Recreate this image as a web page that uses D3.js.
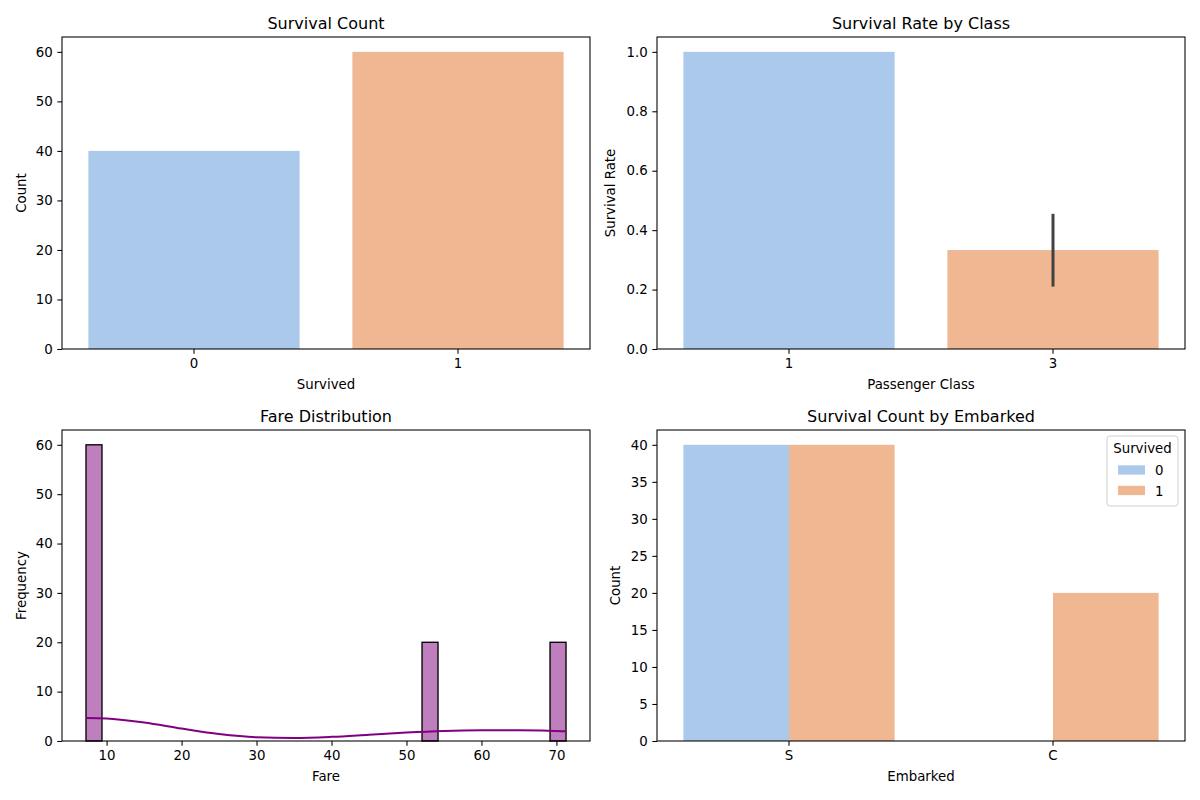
<!DOCTYPE html>
<html>
<head>
<meta charset="utf-8">
<script src="https://cdn.jsdelivr.net/npm/d3@7"></script>
<style>
  html, body { margin: 0; padding: 0; background: #fff; }
  svg { display: block; font-family: "DejaVu Sans", sans-serif; }
</style>
</head>
<body>
<svg id="chart" width="1200" height="800"></svg>
<script>
// ---- data ----
const survivedCats = ["0", "1"];
const survivedCounts = [40, 60];

const classCats = ["1", "3"];
const classRates = [1.0, 0.333];
const classCiLow = [1.0, 0.21];
const classCiHigh = [1.0, 0.455];

const fareBinLo = [7.25, 52.0733, 69.1489];
const fareBinHi = [9.3844, 54.2078, 71.2833];
const fareCounts = [60, 20, 20];
const kdeFare = [7.25, 10, 15, 20, 25, 30, 35, 40, 45, 50, 55, 60, 63, 65, 68, 71.28];
const kdeFreq = [4.67, 4.58, 3.75, 2.51, 1.40, 0.75, 0.61, 0.84, 1.28, 1.73, 2.05, 2.19, 2.20, 2.18, 2.11, 1.95];
const fareTicks = [10, 20, 30, 40, 50, 60, 70];

const embarkedCats = ["S", "C"];
const hueCats = ["0", "1"];
const embarkedDied = [40, 0];
const embarkedSurvived = [40, 20];

const blue = "#abc9ea", orange = "#efb792";
const FS = 13.33;

const svg = d3.select("#chart");
svg.append("rect").attr("width", 1200).attr("height", 800).attr("fill", "#fff");

function panel(x0, y0, x1, y1) {
  return { x0, y0, x1, y1, g: svg.append("g") };
}

function frame(p) {
  p.g.append("rect").attr("x", p.x0).attr("y", p.y0)
    .attr("width", p.x1 - p.x0).attr("height", p.y1 - p.y0)
    .attr("fill", "none").attr("stroke", "#000").attr("stroke-width", 1.07);
}

function styleAxis(sel) {
  sel.select(".domain").remove();
  sel.selectAll(".tick line").attr("stroke", "#000").attr("stroke-width", 1.07);
  sel.selectAll(".tick text").attr("fill", "#000").style("font-size", FS + "px")
     .style("font-family", "DejaVu Sans");
}

function axes(p, xAxis, yAxis) {
  const gx = p.g.append("g").attr("transform", `translate(0,${p.y1})`).call(xAxis);
  styleAxis(gx);
  const gy = p.g.append("g").attr("transform", `translate(${p.x0},0)`).call(yAxis);
  styleAxis(gy);
}

function labels(p, title, xl, yl, ylx) {
  p.g.append("text").attr("x", (p.x0 + p.x1) / 2).attr("y", p.y0 - 8)
    .attr("text-anchor", "middle").style("font-size", "16px").text(title);
  p.g.append("text").attr("x", (p.x0 + p.x1) / 2).attr("y", p.y1 + 40)
    .attr("text-anchor", "middle").style("font-size", FS + "px").text(xl);
  p.g.append("text").attr("transform", `translate(${ylx},${(p.y0 + p.y1) / 2}) rotate(-90)`)
    .attr("text-anchor", "middle").style("font-size", FS + "px").text(yl);
}

// ---- Panel 1: Survival Count ----
{
  const p = panel(62, 37, 590, 349);
  const x = d3.scaleBand().domain(survivedCats).range([p.x0, p.x1]).paddingInner(0.2).paddingOuter(0.1);
  const y = d3.scaleLinear().domain([0, 63]).range([p.y1, p.y0]);
  p.g.selectAll("rect.bar").data(survivedCats).join("rect").attr("class", "bar")
    .attr("x", d => x(d)).attr("width", x.bandwidth())
    .attr("y", (d, i) => y(survivedCounts[i])).attr("height", (d, i) => y(0) - y(survivedCounts[i]))
    .attr("fill", (d, i) => i === 0 ? blue : orange);
  axes(p, d3.axisBottom(x).tickSize(4.67).tickPadding(4.67),
          d3.axisLeft(y).tickValues([0, 10, 20, 30, 40, 50, 60]).tickSize(4.67).tickPadding(4.67));
  frame(p);
  labels(p, "Survival Count", "Survived", "Count", 25.5);
}

// ---- Panel 2: Survival Rate by Class ----
{
  const p = panel(657, 37, 1185, 349);
  const x = d3.scaleBand().domain(classCats).range([p.x0, p.x1]).paddingInner(0.2).paddingOuter(0.1);
  const y = d3.scaleLinear().domain([0, 1.05]).range([p.y1, p.y0]);
  p.g.selectAll("rect.bar").data(classCats).join("rect").attr("class", "bar")
    .attr("x", d => x(d)).attr("width", x.bandwidth())
    .attr("y", (d, i) => y(classRates[i])).attr("height", (d, i) => y(0) - y(classRates[i]))
    .attr("fill", (d, i) => i === 0 ? blue : orange);
  p.g.selectAll("line.err").data(classCats).join("line").attr("class", "err")
    .attr("x1", d => x(d) + x.bandwidth() / 2).attr("x2", d => x(d) + x.bandwidth() / 2)
    .attr("y1", (d, i) => y(classCiLow[i])).attr("y2", (d, i) => y(classCiHigh[i]))
    .attr("stroke", "#424242").attr("stroke-width", 3);
  axes(p, d3.axisBottom(x).tickSize(4.67).tickPadding(4.67),
          d3.axisLeft(y).tickValues([0, 0.2, 0.4, 0.6, 0.8, 1.0]).tickFormat(d3.format(".1f")).tickSize(4.67).tickPadding(4.67));
  frame(p);
  labels(p, "Survival Rate by Class", "Passenger Class", "Survival Rate", 614.5);
}

// ---- Panel 3: Fare Distribution ----
{
  const p = panel(62, 430, 590, 741);
  const x = d3.scaleLinear().domain([4.05, 74.48]).range([p.x0, p.x1]);
  const y = d3.scaleLinear().domain([0, 63]).range([p.y1, p.y0]);
  p.g.selectAll("rect.bin").data(fareCounts).join("rect").attr("class", "bin")
    .attr("x", (d, i) => x(fareBinLo[i])).attr("width", (d, i) => x(fareBinHi[i]) - x(fareBinLo[i]))
    .attr("y", d => y(d)).attr("height", d => y(0) - y(d))
    .attr("fill", "rgba(128,0,128,0.5)").attr("stroke", "#000").attr("stroke-width", 1.33);
  const line = d3.line().x((d, i) => x(kdeFare[i])).y(d => y(d)).curve(d3.curveMonotoneX);
  p.g.append("path").datum(kdeFreq).attr("d", line)
    .attr("fill", "none").attr("stroke", "purple").attr("stroke-width", 2);
  axes(p, d3.axisBottom(x).tickValues(fareTicks).tickSize(4.67).tickPadding(4.67),
          d3.axisLeft(y).tickValues([0, 10, 20, 30, 40, 50, 60]).tickSize(4.67).tickPadding(4.67));
  frame(p);
  labels(p, "Fare Distribution", "Fare", "Frequency", 25.5);
}

// ---- Panel 4: Survival Count by Embarked ----
{
  const p = panel(657, 430, 1185, 741);
  const x = d3.scaleBand().domain(embarkedCats).range([p.x0, p.x1]).paddingInner(0.2).paddingOuter(0.1);
  const xh = d3.scaleBand().domain(hueCats).range([0, x.bandwidth()]);
  const y = d3.scaleLinear().domain([0, 42]).range([p.y1, p.y0]);
  const series = [embarkedDied, embarkedSurvived];
  hueCats.forEach((h, k) => {
    p.g.selectAll("rect.h" + k).data(embarkedCats).join("rect").attr("class", "h" + k)
      .attr("x", d => x(d) + xh(h)).attr("width", xh.bandwidth())
      .attr("y", (d, i) => y(series[k][i])).attr("height", (d, i) => y(0) - y(series[k][i]))
      .attr("fill", k === 0 ? blue : orange);
  });
  axes(p, d3.axisBottom(x).tickSize(4.67).tickPadding(4.67),
          d3.axisLeft(y).tickValues([0, 5, 10, 15, 20, 25, 30, 35, 40]).tickSize(4.67).tickPadding(4.67));
  frame(p);
  labels(p, "Survival Count by Embarked", "Embarked", "Count", 619.5);

  // legend
  const lg = p.g.append("g");
  const lx = 1107, ly = 436, lw = 71, lh = 70;
  lg.append("rect").attr("x", lx).attr("y", ly).attr("width", lw).attr("height", lh)
    .attr("rx", 3).attr("fill", "rgba(255,255,255,0.8)").attr("stroke", "#d0d0d0").attr("stroke-width", 1);
  lg.append("text").attr("x", lx + lw / 2).attr("y", ly + 17).attr("text-anchor", "middle")
    .style("font-size", FS + "px").text("Survived");
  hueCats.forEach((h, k) => {
    const cy = ly + 34 + k * 20.5;
    lg.append("rect").attr("x", lx + 11).attr("y", cy - 4.7).attr("width", 27).attr("height", 9.3)
      .attr("fill", k === 0 ? blue : orange);
    lg.append("text").attr("x", lx + 48).attr("y", cy + 5).style("font-size", FS + "px").text(h);
  });
}
</script>
</body>
</html>
